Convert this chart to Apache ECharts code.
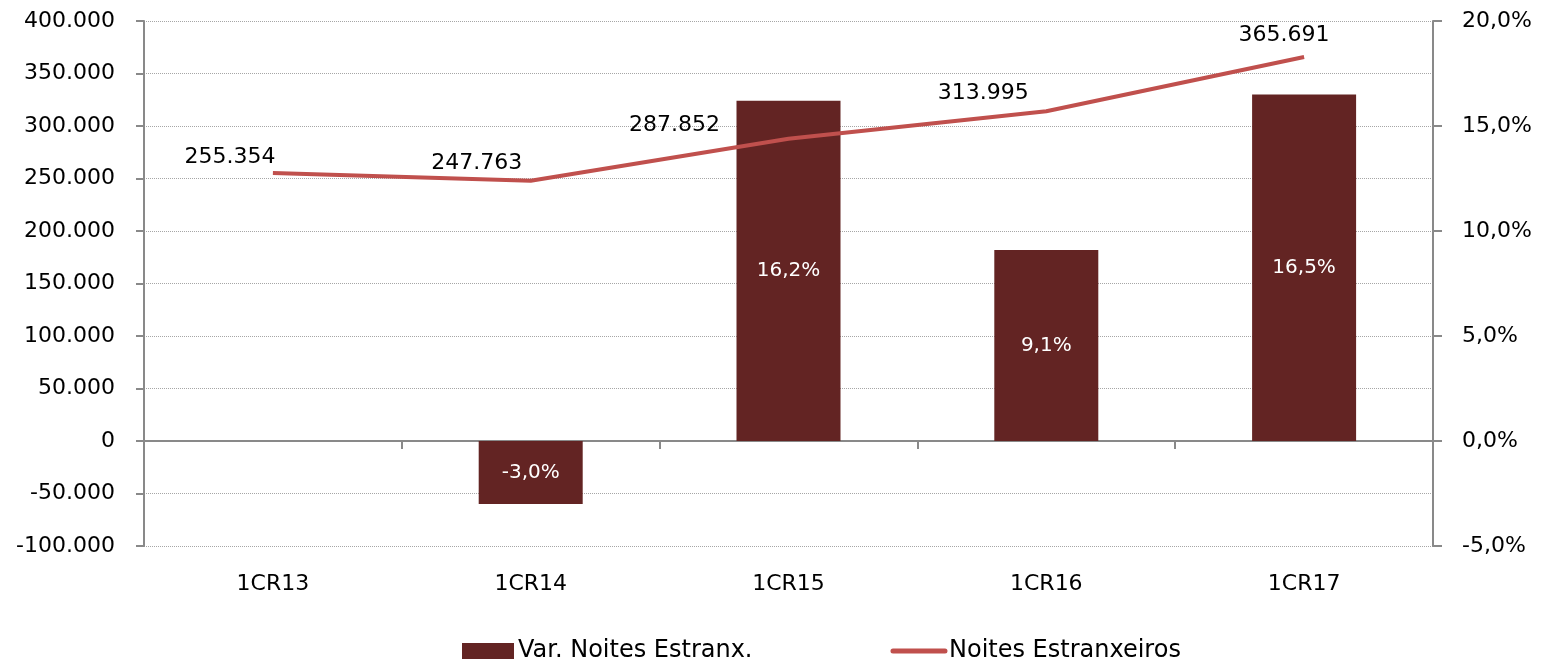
<!DOCTYPE html>
<html>
<head>
    <meta charset="utf-8">
    <script src="https://cdn.jsdelivr.net/npm/echarts@6/dist/echarts.min.js"></script>
    <style>
        html, body { margin: 0; padding: 0; background: #fff; }
    </style>
</head>
<body>
<div id="chart" style="width: 1545px;height:661px;"></div>
<script type="text/javascript">
    // dados
    var categorias = ['1CR13', '1CR14', '1CR15', '1CR16', '1CR17'];
    var noitesEstrangeiros = [255354, 247763, 287852, 313995, 365691];
    var varNoites = [null, -3.0, 16.2, 9.1, 16.5];
    // deslocamento dos rótulos da linha
    var offsetsRotulos = [[-43, 1], [-54, -1], [-114, 4], [-63, -1], [-20, -5]];

    var fonte = 'DejaVu Sans';
    var cinzaEixo = '#898989';

    function milhares(v) {
        var s = Math.abs(v).toString().replace(/\B(?=(\d{3})+(?!\d))/g, '.');
        return (v < 0 ? '-' : '') + s;
    }
    function pct(v) {
        return v.toFixed(1).replace('.', ',') + '%';
    }

    var dadosLinha = noitesEstrangeiros.map(function (v, i) {
        return { value: v, label: { offset: offsetsRotulos[i] } };
    });

    var myChart = echarts.init(document.getElementById('chart'));

    var option = {
        animation: false,
        textStyle: { fontFamily: fonte },
        grid: { left: 144, right: 112, top: 21, bottom: 115, containLabel: false },
        legend: {
            left: 462,
            top: 639,
            padding: 0,
            itemWidth: 52,
            itemHeight: 16,
            itemGap: 138,
            textStyle: { fontFamily: fonte, fontSize: 24, color: '#000', padding: [0, 0, 0, -1] },
            data: [
                { name: 'Var. Noites Estranx.', icon: 'rect' },
                {
                    name: 'Noites Estranxeiros',
                    itemStyle: { opacity: 0 },
                    lineStyle: { width: 5, cap: 'round', color: '#C0504D' }
                }
            ]
        },
        xAxis: [{
            type: 'category',
            data: categorias,
            position: 'bottom',
            axisLine: { show: false, onZero: false },
            axisTick: { show: false },
            axisLabel: { fontFamily: fonte, fontSize: 22, color: '#000', margin: 27 }
        }, {
            type: 'category',
            data: categorias,
            position: 'bottom',
            axisLine: { show: true, onZero: true, onZeroAxisIndex: 0, lineStyle: { color: cinzaEixo, width: 2 } },
            axisTick: { show: true, length: 8, lineStyle: { color: cinzaEixo, width: 2 } },
            axisLabel: { show: false }
        }],
        yAxis: [{
            type: 'value',
            min: -100000,
            max: 400000,
            interval: 50000,
            position: 'left',
            axisLine: { show: true, lineStyle: { color: cinzaEixo, width: 2 } },
            axisTick: { show: true, length: 8, lineStyle: { color: cinzaEixo, width: 2 } },
            axisLabel: {
                fontFamily: fonte, fontSize: 22, color: '#000', margin: 29,
                formatter: function (v) { return milhares(v); }
            },
            splitLine: { show: true, lineStyle: { color: '#a6a6a6', type: 'dotted', width: 1 } }
        }, {
            type: 'value',
            min: -5,
            max: 20,
            interval: 5,
            position: 'right',
            axisLine: { show: true, lineStyle: { color: cinzaEixo, width: 2 } },
            axisTick: { show: true, length: 9, lineStyle: { color: cinzaEixo, width: 2 } },
            axisLabel: {
                fontFamily: fonte, fontSize: 22, color: '#000', margin: 29,
                formatter: function (v) { return pct(v); }
            },
            splitLine: { show: false }
        }],
        series: [{
            name: 'Var. Noites Estranx.',
            type: 'bar',
            xAxisIndex: 0,
            yAxisIndex: 1,
            barWidth: 104,
            data: varNoites,
            itemStyle: { color: '#632423' },
            label: {
                show: true,
                position: 'inside',
                color: '#fff',
                fontFamily: fonte,
                fontSize: 20,
                formatter: function (p) { return pct(p.value); }
            }
        }, {
            name: 'Noites Estranxeiros',
            type: 'line',
            xAxisIndex: 0,
            yAxisIndex: 0,
            symbol: 'circle',
            symbolSize: 0,
            showSymbol: true,
            data: dadosLinha,
            lineStyle: { color: '#C0504D', width: 4 },
            itemStyle: { color: '#C0504D' },
            label: {
                show: true,
                position: 'top',
                distance: 6,
                color: '#000',
                fontFamily: fonte,
                fontSize: 22,
                formatter: function (p) { return milhares(p.value); }
            },
            z: 3
        }]
    };

    myChart.setOption(option);
</script>
</body>
</html>
